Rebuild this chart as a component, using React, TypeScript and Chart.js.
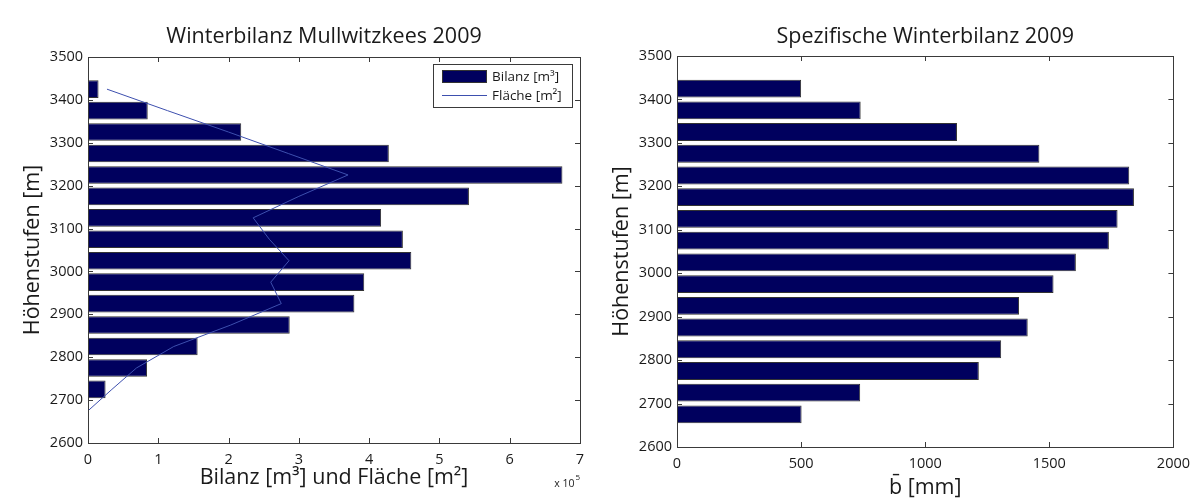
import React, { useEffect, useRef } from "react";
import { Chart, registerables } from "chart.js";

Chart.register(...registerables);

// ---------- data ----------
const elevationsBilanz = [3425, 3375, 3325, 3275, 3225, 3175, 3125, 3075, 3025, 2975, 2925, 2875, 2825, 2775, 2725];
const bilanzM3 = [15000, 85000, 218000, 428000, 675000, 542000, 417000, 448000, 460000, 393000, 379000, 287000, 156000, 84000, 25000];

const elevationsFlaeche = [3425, 3375, 3325, 3275, 3225, 3175, 3125, 3075, 3025, 2975, 2925, 2875, 2825, 2775, 2725, 2675];
const flaecheM2 = [27000, 113000, 200000, 285000, 370000, 300000, 235000, 258000, 286000, 260000, 275000, 203000, 122000, 69000, 34000, 0];

const elevationsSpez = [3425, 3375, 3325, 3275, 3225, 3175, 3125, 3075, 3025, 2975, 2925, 2875, 2825, 2775, 2725, 2675];
const spezBilanzMM = [500, 740, 1128, 1460, 1822, 1841, 1775, 1740, 1607, 1517, 1378, 1413, 1306, 1216, 738, 502];

const heightTicks = [2600, 2700, 2800, 2900, 3000, 3100, 3200, 3300, 3400, 3500];
const bilanzTicks = [0, 100000, 200000, 300000, 400000, 500000, 600000, 700000];
const spezTicks = [0, 500, 1000, 1500, 2000];

// ---------- styles ----------
const FONT = "'Open Sans', 'Noto Sans', sans-serif";
const NAVY = "#00005e";
const BAR_EDGE = "#333333";
const LINE_BLUE = "#3d4fae";
const AXIS = "#3a3a3a";
const TEXT = "#1a1a1a";

Chart.defaults.font.family = FONT;
Chart.defaults.color = TEXT;

const boxPlugin = {
  id: "matlabBox",
  afterDatasetsDraw(chart: any) {
    const { ctx, chartArea: a, scales } = chart;
    const L = 5;
    ctx.save();
    ctx.strokeStyle = AXIS;
    ctx.lineWidth = 1;
    ctx.beginPath();
    const xs = scales.x;
    const ys = scales.y;
    for (const t of xs.ticks) {
      const px = Math.round(xs.getPixelForValue(t.value)) + 0.5;
      ctx.moveTo(px, a.bottom);
      ctx.lineTo(px, a.bottom - L);
      ctx.moveTo(px, a.top);
      ctx.lineTo(px, a.top + L);
    }
    for (const t of ys.ticks) {
      const py = Math.round(ys.getPixelForValue(t.value)) + 0.5;
      ctx.moveTo(a.left, py);
      ctx.lineTo(a.left + L, py);
      ctx.moveTo(a.right, py);
      ctx.lineTo(a.right - L, py);
    }
    ctx.stroke();
    ctx.strokeRect(
      Math.round(a.left) + 0.5,
      Math.round(a.top) + 0.5,
      Math.round(a.right - a.left),
      Math.round(a.bottom - a.top)
    );
    ctx.restore();
  },
};

const insideLegendPlugin = {
  id: "insideLegend",
  afterDatasetsDraw(chart: any) {
    const { ctx, chartArea: a } = chart;
    const ds = chart.data.datasets;
    const barDs = ds.find((d: any) => d.type === "bar");
    const lineDs = ds.find((d: any) => d.type === "line");
    const w = 139;
    const h = 43;
    const x0 = Math.round(a.right - 8 - w);
    const y0 = Math.round(a.top + 7);
    ctx.save();
    ctx.fillStyle = "#ffffff";
    ctx.fillRect(x0, y0, w, h);
    ctx.strokeStyle = AXIS;
    ctx.lineWidth = 1;
    ctx.strokeRect(x0 + 0.5, y0 + 0.5, w, h);
    // bar swatch
    ctx.fillStyle = barDs.backgroundColor;
    ctx.fillRect(x0 + 9, y0 + 6, 45, 13);
    ctx.strokeStyle = BAR_EDGE;
    ctx.strokeRect(x0 + 9.5, y0 + 6.5, 44, 12);
    // line sample
    ctx.strokeStyle = lineDs.borderColor;
    ctx.beginPath();
    ctx.moveTo(x0 + 9, y0 + 31.5);
    ctx.lineTo(x0 + 54, y0 + 31.5);
    ctx.stroke();
    ctx.fillStyle = TEXT;
    ctx.font = `13.5px ${FONT}`;
    ctx.textAlign = "left";
    ctx.textBaseline = "middle";
    ctx.fillText(barDs.label, x0 + 59, y0 + 13);
    ctx.fillText(lineDs.label, x0 + 59, y0 + 32);
    ctx.restore();
  },
};

const exponentPlugin = {
  id: "exponentLabel",
  afterDraw(chart: any) {
    const { ctx, chartArea: a } = chart;
    ctx.save();
    ctx.fillStyle = TEXT;
    ctx.textBaseline = "alphabetic";
    ctx.textAlign = "right";
    ctx.font = `8px ${FONT}`;
    const supW = ctx.measureText("5").width;
    ctx.fillText("5", a.right, a.bottom + 37);
    ctx.font = `10.5px ${FONT}`;
    ctx.fillText("x 10", a.right - supW - 1, a.bottom + 44);
    ctx.restore();
  },
};

function heightScale(titlePadTop: number, width: number) {
  return {
    type: "linear",
    position: "left",
    axis: "y",
    min: 2600,
    max: 3500,
    offset: false,
    grid: { display: false, drawTicks: false, offset: false },
    border: { display: false },
    ticks: {
      font: { size: 14.5 },
      padding: 5,
      color: TEXT,
      callback: (v: number) => String(v),
    },
    afterBuildTicks: (scale: any) => {
      scale.ticks = heightTicks.map((v) => ({ value: v }));
    },
    afterFit: (scale: any) => {
      scale.width = width;
    },
    title: {
      display: true,
      text: "Höhenstufen [m]",
      font: { size: 21.5, lineHeight: 1.2 },
      padding: { top: titlePadTop, bottom: 0 },
      color: TEXT,
    },
  };
}

function dummyRight(width: number) {
  return {
    type: "linear",
    position: "right",
    axis: "y",
    min: 0,
    max: 1,
    grid: { display: false, drawTicks: false },
    border: { display: false },
    ticks: { display: false },
    afterFit: (scale: any) => {
      scale.width = width;
    },
  };
}

function leftConfig(): any {
  return {
    type: "bar",
    data: {
      datasets: [
        {
          type: "line",
          label: "Fläche [m²]",
          data: elevationsFlaeche.map((y, i) => ({ x: flaecheM2[i], y })),
          borderColor: LINE_BLUE,
          backgroundColor: LINE_BLUE,
          borderWidth: 1,
          pointRadius: 0,
          fill: false,
          tension: 0,
          order: 0,
          xAxisID: "x",
          yAxisID: "y",
        },
        {
          type: "bar",
          label: "Bilanz [m³]",
          data: elevationsBilanz.map((y, i) => ({ x: bilanzM3[i], y })),
          backgroundColor: NAVY,
          borderColor: BAR_EDGE,
          borderWidth: 1,
          barPercentage: 0.82,
          categoryPercentage: 1,
          order: 1,
          xAxisID: "x",
          yAxisID: "y",
        },
      ],
    },
    options: {
      indexAxis: "y",
      animation: false,
      responsive: false,
      maintainAspectRatio: false,
      events: [],
      layout: { padding: 0 },
      plugins: {
        legend: { display: false },
        tooltip: { enabled: false },
        title: {
          display: true,
          text: "Winterbilanz Mullwitzkees 2009",
          font: { size: 21.5, weight: "normal", lineHeight: 1.2 },
          color: TEXT,
          padding: { top: 24, bottom: 7.2 },
          fullSize: true,
        },
      },
      scales: {
        x: {
          type: "linear",
          position: "bottom",
          min: 0,
          max: 700000,
          offset: false,
          grid: { display: false, drawTicks: false },
          border: { display: false },
          ticks: {
            font: { size: 14.5 },
            padding: 8,
            color: TEXT,
            callback: (v: number) => String(v / 100000),
          },
          afterBuildTicks: (scale: any) => {
            scale.ticks = bilanzTicks.map((v) => ({ value: v }));
          },
          afterFit: (scale: any) => {
            scale.height = 61;
          },
          title: {
            display: true,
            text: "Bilanz [m³] und Fläche [m²]",
            font: { size: 21.5, lineHeight: 1.2 },
            padding: { top: 0, bottom: 13.6 },
            color: TEXT,
          },
        },
        y: heightScale(20, 88),
        yR: dummyRight(68),
      },
    },
    plugins: [boxPlugin, insideLegendPlugin, exponentPlugin],
  };
}

function rightConfig(): any {
  return {
    type: "bar",
    data: {
      datasets: [
        {
          type: "bar",
          label: "b̄ [mm]",
          data: elevationsSpez.map((y, i) => ({ x: spezBilanzMM[i], y })),
          backgroundColor: NAVY,
          borderColor: BAR_EDGE,
          borderWidth: 1,
          barPercentage: 0.82,
          categoryPercentage: 1,
          xAxisID: "x",
          yAxisID: "y",
        },
      ],
    },
    options: {
      indexAxis: "y",
      animation: false,
      responsive: false,
      maintainAspectRatio: false,
      events: [],
      layout: { padding: 0 },
      plugins: {
        legend: { display: false },
        tooltip: { enabled: false },
        title: {
          display: true,
          text: "Spezifische Winterbilanz 2009",
          font: { size: 21.5, weight: "normal", lineHeight: 1.2 },
          color: TEXT,
          padding: { top: 24, bottom: 6.2 },
          fullSize: false,
        },
      },
      scales: {
        x: {
          type: "linear",
          position: "bottom",
          min: 0,
          max: 2000,
          offset: false,
          grid: { display: false, drawTicks: false },
          border: { display: false },
          ticks: {
            font: { size: 14.5 },
            padding: 8,
            color: TEXT,
            callback: (v: number) => String(v),
          },
          afterBuildTicks: (scale: any) => {
            scale.ticks = spezTicks.map((v) => ({ value: v }));
          },
          afterFit: (scale: any) => {
            scale.height = 57;
          },
          title: {
            display: true,
            text: "b̄ [mm]",
            font: { size: 21.5, lineHeight: 1.2 },
            padding: { top: 0, bottom: 3 },
            color: TEXT,
          },
        },
        y: heightScale(9, 77),
        yR: dummyRight(22),
      },
    },
    plugins: [boxPlugin],
  };
}

export default function App() {
  const leftRef = useRef<HTMLCanvasElement>(null);
  const rightRef = useRef<HTMLCanvasElement>(null);

  useEffect(() => {
    const c1 = new Chart(leftRef.current as HTMLCanvasElement, leftConfig());
    const c2 = new Chart(rightRef.current as HTMLCanvasElement, rightConfig());
    return () => {
      c1.destroy();
      c2.destroy();
    };
  }, []);

  return (
    <div
      style={{
        position: "fixed",
        left: 0,
        top: 0,
        width: 1198,
        height: 504,
        background: "#ffffff",
        overflow: "hidden",
      }}
    >
      <canvas
        ref={leftRef}
        width={648}
        height={504}
        style={{ position: "absolute", left: 0, top: 0, width: 648, height: 504 }}
      />
      <canvas
        ref={rightRef}
        width={598}
        height={504}
        style={{ position: "absolute", left: 600, top: 0, width: 598, height: 504 }}
      />
    </div>
  );
}
